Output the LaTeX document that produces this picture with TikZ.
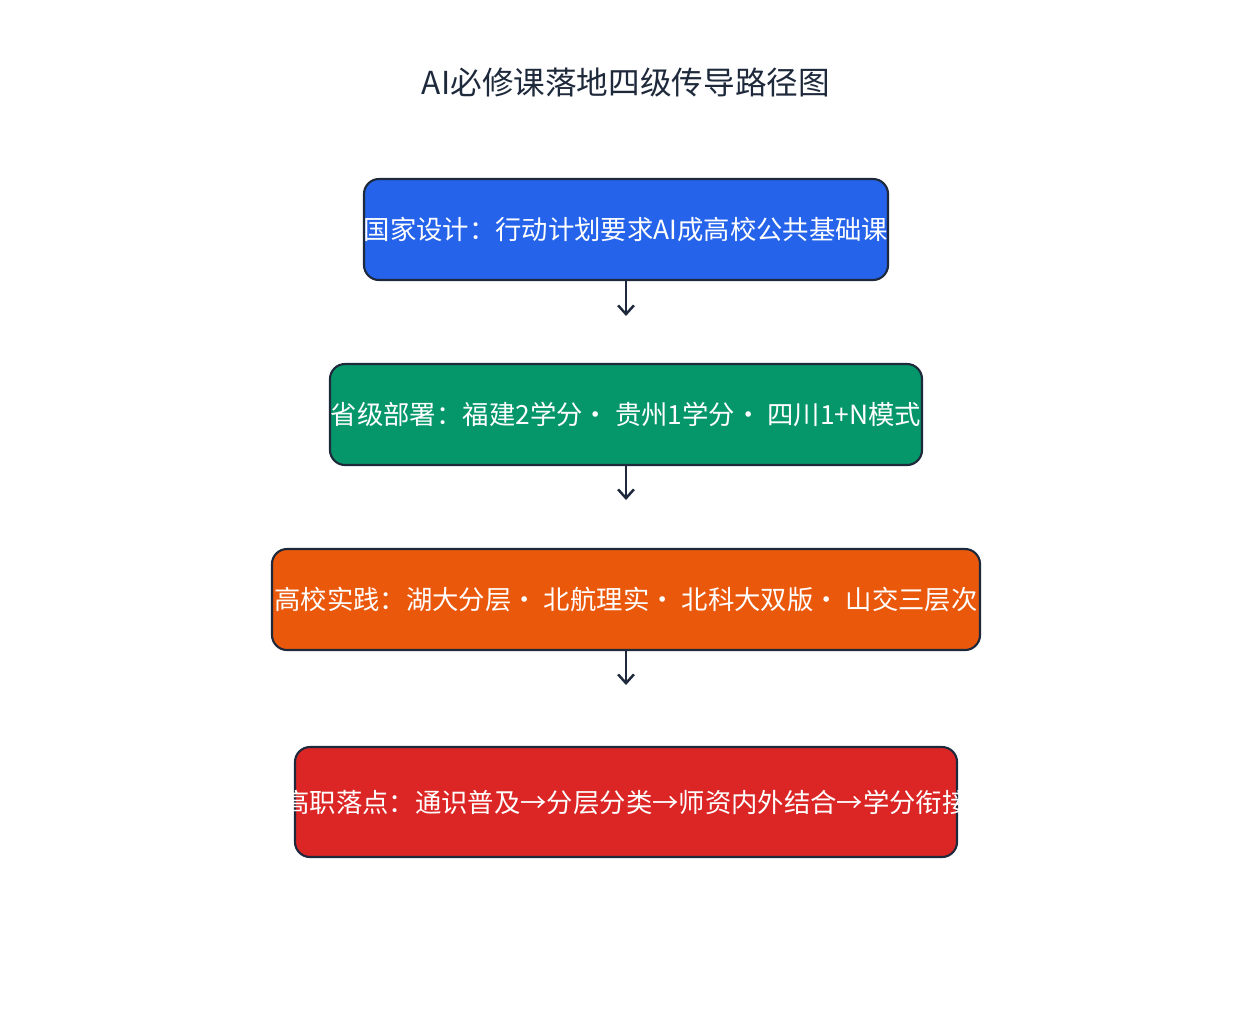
\documentclass[tikz,border=0pt]{standalone}
\usepackage{fontspec}
\setmainfont{Noto Sans CJK SC}
\usetikzlibrary{positioning,arrows.meta}
\definecolor{ink}{HTML}{1E293B}
\definecolor{cblue}{HTML}{2563EB}
\definecolor{cgreen}{HTML}{059669}
\definecolor{corange}{HTML}{EA580C}
\definecolor{cred}{HTML}{DC2626}
\begin{document}
\begin{tikzpicture}[
    stage/.style={rectangle, rounded corners=0.3cm, draw=ink, line width=1.2pt, minimum height=2.02cm, inner sep=0pt},
    stagetext/.style={text=white, font=\fontsize{15}{18}\selectfont, inner sep=0pt},
    arrow/.style={-{Straight Barb[length=5pt,width=9pt]}, draw=ink, line width=1.4pt}
]
    \useasboundingbox (0,0) rectangle (25.04,-20.28);
    \node[font=\fontsize{18}{22}\selectfont, text=ink] (title) at (12.52,-1.64) {AI必修课落地四级传导路径图};

    \node[stage, fill=cblue, minimum width=10.48cm] (nation) at (12.52,-4.59) {};
    \node[stage, fill=cgreen, minimum width=11.84cm] (province) at (12.52,-8.29) {};
    \node[stage, fill=corange, minimum width=14.16cm] (college) at (12.52,-11.99) {};
    \node[stage, fill=cred, minimum width=13.24cm, minimum height=2.2cm] (vocation) at (12.52,-16.04) {};

    % texts run past the box edges, so they are clipped
    \foreach \n/\t in {nation/{国家设计：行动计划要求AI成高校公共基础课},
                       province/{省级部署：福建2学分· 贵州1学分· 四川1+N模式},
                       college/{高校实践：湖大分层· 北航理实· 北科大双版· 山交三层次},
                       vocation/{高职落点：通识普及→分层分类→师资内外结合→学分衔接}} {
        \begin{scope}
            \clip (\n.south west) rectangle (\n.north east);
            \node[stagetext] at (\n) {\t};
        \end{scope}
    }

    \coordinate (a1) at (12.52,-6.32);
    \coordinate (a2) at (12.52,-10.0);
    \coordinate (a3) at (12.52,-13.7);
    \draw[arrow] (nation) -- (a1);
    \draw[arrow] (province) -- (a2);
    \draw[arrow] (college) -- (a3);
\end{tikzpicture}
\end{document}
